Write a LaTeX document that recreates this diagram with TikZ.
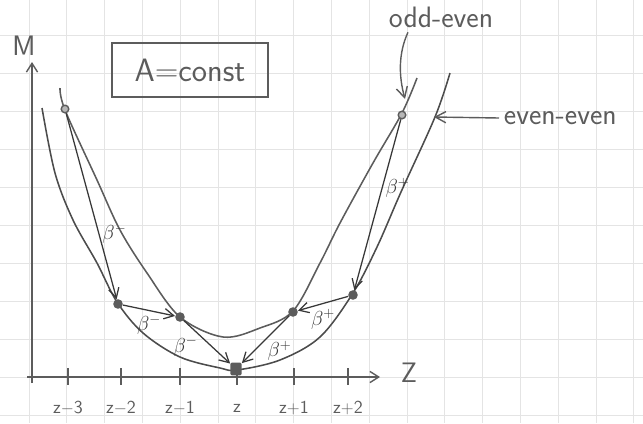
\documentclass[tikz,border=0pt]{standalone}
\usepackage{amsmath}
\usepackage{tikz}
\usetikzlibrary{arrows.meta,positioning}
\definecolor{PencilInk}{HTML}{5C5C5C}
\definecolor{PencilDark}{HTML}{383838}
\definecolor{PaperGrid}{HTML}{E4E4E4}

\begin{document}
\begin{tikzpicture}[x=0.25mm,y=-0.25mm,font=\sffamily,text=PencilInk,
    curve/.style={draw=PencilInk,line width=1.1pt},
    axis/.style={draw=PencilInk,line width=1pt},
    decay/.style={draw=PencilDark,line width=0.9pt,-{Straight Barb[length=2.4mm,width=2.6mm]}},
    pointer/.style={draw=PencilInk,line width=1pt,-{Straight Barb[length=2.6mm,width=2.8mm]}},
    dot/.style={circle,fill=PencilInk,inner sep=0pt,minimum size=2.4mm},
    bigdot/.style={rectangle,rounded corners=1pt,fill=PencilInk,inner sep=0pt,minimum width=2.8mm,minimum height=3.2mm},
    ringdot/.style={circle,draw=PencilInk,fill=PencilInk!45,line width=1pt,inner sep=0pt,minimum size=1.9mm},
    decaylbl/.style={font=\fontsize{14}{16}\selectfont,text=PencilDark,inner sep=1pt},
    ticklbl/.style={font=\sffamily\fontsize{13}{15}\selectfont},
    curvelbl/.style={font=\sffamily\fontsize{21}{23}\selectfont}
  ]
  \useasboundingbox (0,0) rectangle (643,423);

  % squared paper
  \foreach \k in {0,...,16}
    \draw[PaperGrid,line width=0.5pt] ({29+37.8*\k},0) -- ({29+37.8*\k},423);
  \foreach \k in {0,...,10}
    \draw[PaperGrid,line width=0.5pt] (0,{35+38*\k}) -- (643,{35+38*\k});

  % A = const box
  \node[draw=PencilInk,line width=1pt,minimum width=39mm,minimum height=13.5mm,
        font=\sffamily\fontsize{23}{25}\selectfont] (abox) at (190,70) {A=const};

  % axes
  \coordinate (xstart) at (27,377);
  \coordinate (xend) at (380,377);
  \coordinate (ystart) at (32,383);
  \coordinate (yend) at (32,62);
  \draw[axis,-{Straight Barb[length=2.2mm,width=2.8mm]}] (xstart) -- (xend);
  \draw[axis,-{Straight Barb[length=2.2mm,width=2.8mm]}] (ystart) -- (yend);
  \node[font=\sffamily\fontsize{20}{22}\selectfont] (mlbl) at (24,46) {M};
  \node[font=\sffamily\fontsize{20}{22}\selectfont] (zlbl) at (409,373) {Z};

  \foreach \x/\name/\lbl in {68/zm3/z$-$3,121/zm2/z$-$2,180/zm1/z$-$1,237/z0/z,294/zp1/z$+$1,348/zp2/z$+$2}{
    \draw[axis] (\x,368) -- (\x,385);
    \node[ticklbl] (t\name) at (\x,408) {\lbl};
  }

  % mass parabolas
  \draw[curve] plot[smooth,tension=0.55] coordinates {(60,88) (65,110) (97,180) (120,230) (147,273)
    (180,317) (223,337) (260,328) (293,311) (320,263) (340,223) (373,163) (402,113) (417,78)};
  \draw[curve,draw=PencilDark!90] plot[smooth,tension=0.55] coordinates {(42,108) (55,173) (73,220)
    (97,263) (117,302) (143,333) (180,357) (220,368) (237,370) (280,360) (320,337) (353,293)
    (377,247) (401,192) (435,117) (450,73)};

  % nuclei
  \node[ringdot] (zm3) at (65,109) {};
  \node[dot] (zm2) at (118,304) {};
  \node[dot] (zm1) at (180,317) {};
  \node[bigdot] (z0) at (236,369) {};
  \node[dot] (zp1) at (293,312) {};
  \node[dot] (zp2) at (353,295) {};
  \node[ringdot] (zp3) at (402,115) {};

  % beta decays
  \draw[decay] (zm3) -- (zm2) node[decaylbl,pos=0.65,right=1pt] (bm1) {$\beta^-$};
  \draw[decay] (zm2) -- (zm1) node[decaylbl,midway,below=2pt] (bm2) {$\beta^-$};
  \draw[decay] (zm1) -- (z0) node[decaylbl,pos=0.6,left=3mm] (bm3) {$\beta^-$};
  \draw[decay] (zp1) -- (z0) node[decaylbl,midway,below right=0pt] (bp1) {$\beta^+$};
  \draw[decay] (zp2) -- (zp1) node[decaylbl,midway,below=3pt] (bp2) {$\beta^+$};
  \draw[decay] (zp3) -- (zp2) node[decaylbl,pos=0.4,right=1pt] (bp3) {$\beta^+$};

  % curve labels
  \node[curvelbl] (oddlbl) at (441,17) {odd-even};
  \node[curvelbl,anchor=west] (evenlbl) at (499,118) {even-even};
  \coordinate (oddtip) at (405,99);
  \coordinate (eventip) at (434,117);
  \draw[pointer] ([xshift=6mm]oddlbl.south west) .. controls +(-10,22) and +(-6,-22) .. (oddtip);
  \draw[pointer] (evenlbl.west) -- (eventip);
\end{tikzpicture}
\end{document}
